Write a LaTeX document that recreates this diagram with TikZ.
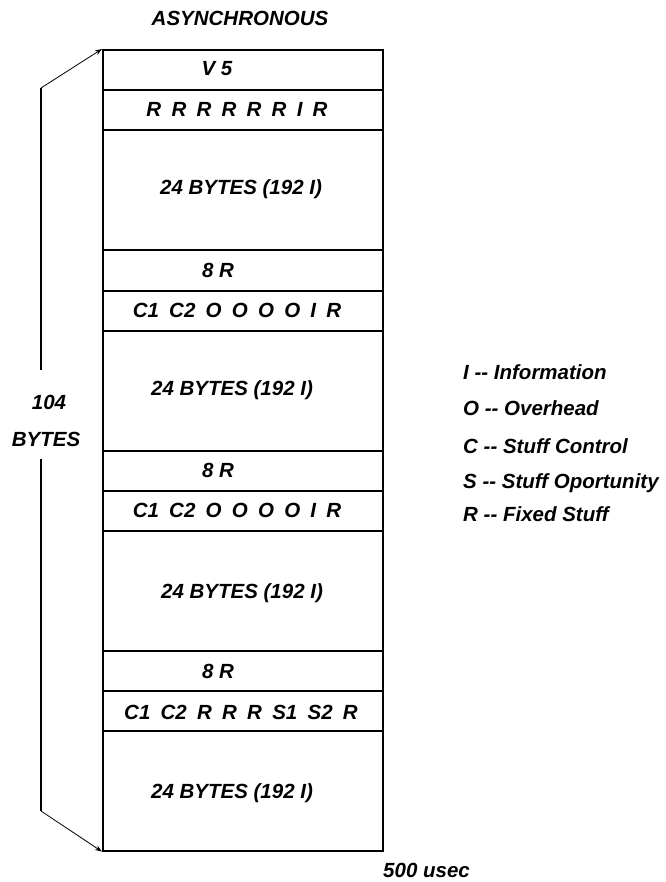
\documentclass[tikz,border=0pt]{standalone}
\usepackage{fontspec}
\setmainfont{Liberation Sans}
\usetikzlibrary{arrows.meta}

\tikzset{
  texto/.style={font=\fontsize{20.5}{24}\selectfont\bfseries\itshape, inner sep=0pt},
  fila/.style={draw, line width=1.6pt, minimum width=280pt, inner sep=0pt, anchor=north west},
  flecha/.style={line width=0.8pt, -{Stealth[length=7pt,width=5pt]}},
}
\newcommand{\hueco}{\hspace{0.5em}}

\begin{document}
\begin{tikzpicture}[x=1pt,y=-1pt]
\useasboundingbox (0,0) rectangle (665,882);

% Titulo
\node [texto] (titulo) at (240,18) {ASYNCHRONOUS};

% Filas de la trama
\foreach \n/\a/\b in {v5/49/89, rfija/89/129, datosA/129/249, ochoA/249/290,
    ctrlA/290/330, datosB/330/450, ochoB/450/490, ctrlB/490/530,
    datosC/530/650, ochoC/650/690, ctrlC/690/730, datosD/730/850}
  \node [fila, minimum height={\b-\a}] (\n) at (102,\a) {};

% Contenido de las filas
\node [texto] (tv5) at (217,69) {V 5};
\node [texto] (trf) at (237,109) {R\hueco R\hueco R\hueco R\hueco R\hueco R\hueco I\hueco R};
\node [texto] (tdA) at (241,189) {24 BYTES (192 I)};
\node [texto] (toA) at (218,270) {8 R};
\node [texto] (tcA) at (237,310) {C1\hueco C2\hueco O\hueco O\hueco O\hueco O\hueco I\hueco R};
\node [texto] (tdB) at (232,390) {24 BYTES (192 I)};
\node [texto] (toB) at (218,470) {8 R};
\node [texto] (tcB) at (237,510) {C1\hueco C2\hueco O\hueco O\hueco O\hueco O\hueco I\hueco R};
\node [texto] (tdC) at (242,593) {24 BYTES (192 I)};
\node [texto] (toC) at (218,671) {8 R};
\node [texto] (tcC) at (241,712) {C1\hueco C2\hueco R\hueco R\hueco R\hueco S1\hueco S2\hueco R};
\node [texto] (tdD) at (232,793) {24 BYTES (192 I)};

% Cota de 104 bytes
\node [texto] (cien) at (49,402) {104};
\node [texto] (bytes) at (46,439) {BYTES};
\coordinate (arriba) at (41,88);
\coordinate (corteA) at (41,370);
\coordinate (corteB) at (41,459);
\coordinate (abajo) at (41,811);
\draw [line width=1.6pt] (arriba) -- (corteA);
\draw [line width=1.6pt] (corteB) -- (abajo);
\draw [flecha] (arriba) -- (v5.north west);
\draw [flecha] (abajo) -- (datosD.south west);

% Tiempo
\node [texto, anchor=west] (tiempo) at (383,870) {500 usec};

% Leyenda
\node [texto, anchor=west] (leyI) at (463,372) {I -{}- Information};
\node [texto, anchor=west] (leyO) at (463,408) {O -{}- Overhead};
\node [texto, anchor=west] (leyC) at (463,446) {C -{}- Stuff Control};
\node [texto, anchor=west] (leyS) at (463,483) {S -{}- Stuff Oportunity};
\node [texto, anchor=west] (leyR) at (463,514) {R -{}- Fixed Stuff};
\end{tikzpicture}
\end{document}
